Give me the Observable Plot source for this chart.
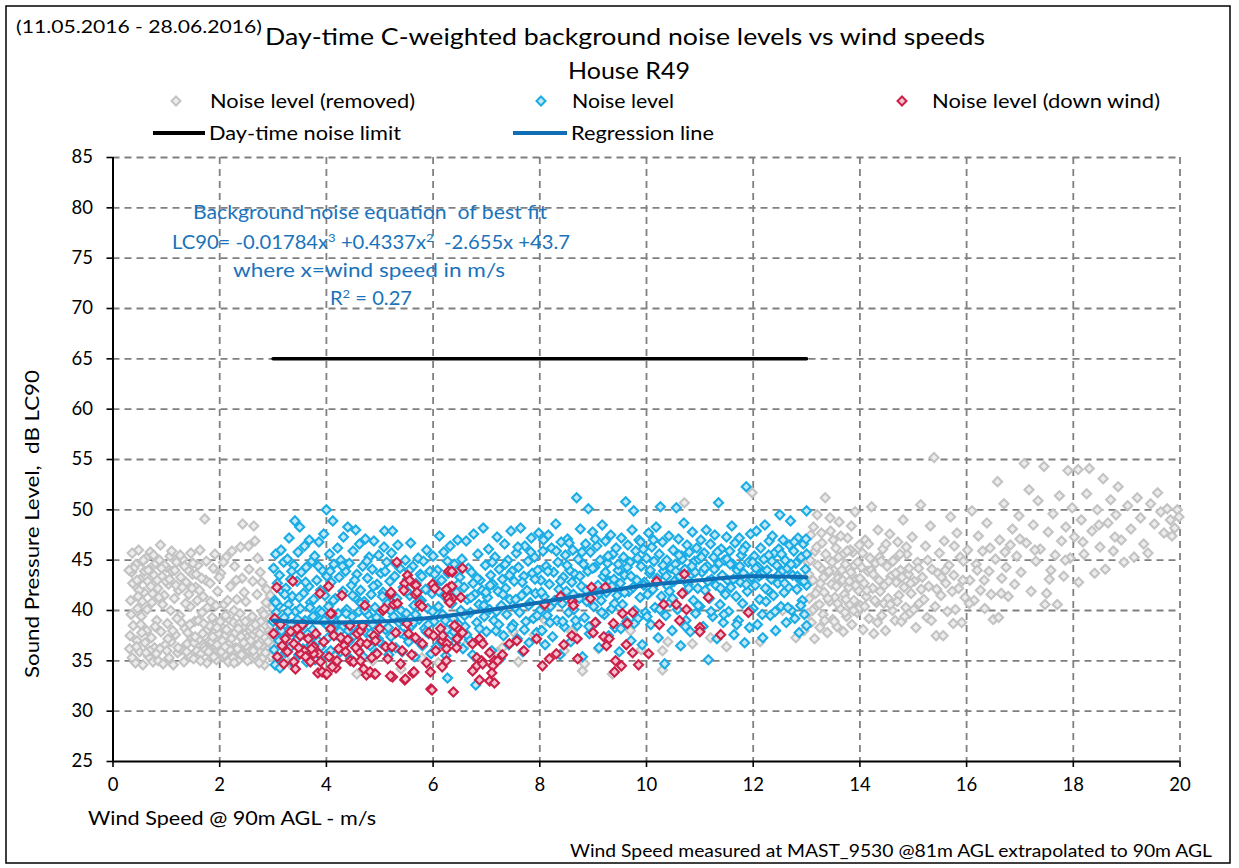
<!DOCTYPE html>
<html><head><meta charset="utf-8">
<script src="https://cdn.jsdelivr.net/npm/d3@7"></script>
<script src="https://cdn.jsdelivr.net/npm/@observablehq/plot@0.6"></script>
<style>
body{margin:0;background:#fff;}
#wrap{position:relative;width:1239px;height:868px;overflow:hidden;font-family:Lato,sans-serif;background:#fff;}
#chart{position:absolute;left:0;top:0;}
#over{position:absolute;left:0;top:0;pointer-events:none;}
</style></head>
<body>
<div id="wrap">
<div id="chart"></div>
<svg id="over" width="1239" height="868" font-family="Lato, sans-serif">
<rect x="6" y="6" width="1224" height="857" fill="none" stroke="#000" stroke-width="1.5"/>
<text x="16" y="33" font-size="18" textLength="246" lengthAdjust="spacingAndGlyphs">(11.05.2016 - 28.06.2016)</text>
<text x="265" y="45" font-size="24" textLength="720" lengthAdjust="spacingAndGlyphs">Day-time C-weighted background noise levels vs wind speeds</text>
<text x="568" y="79" font-size="24" textLength="122" lengthAdjust="spacingAndGlyphs">House R49</text>
<path d="M176,96.5L180.5,101L176,105.5L171.5,101Z" fill="#ededed" stroke="#c3c3c3" stroke-width="2"/>
<text x="210" y="108" font-size="19.5" textLength="205" lengthAdjust="spacingAndGlyphs">Noise level (removed)</text>
<path d="M541,96.5L545.5,101L541,105.5L536.5,101Z" fill="#c4e8f7" stroke="#1aace4" stroke-width="2"/>
<text x="572" y="108" font-size="19.5" textLength="102" lengthAdjust="spacingAndGlyphs">Noise level</text>
<path d="M902,96.5L906.5,101L902,105.5L897.5,101Z" fill="#f5c3d0" stroke="#cc1f48" stroke-width="2"/>
<text x="932" y="108" font-size="19.5" textLength="228" lengthAdjust="spacingAndGlyphs">Noise level (down wind)</text>
<line x1="153" y1="133" x2="205" y2="133" stroke="#000" stroke-width="4"/>
<text x="209" y="140" font-size="19.5" textLength="192" lengthAdjust="spacingAndGlyphs">Day-time noise limit</text>
<line x1="513" y1="133" x2="567" y2="133" stroke="#106eb4" stroke-width="4"/>
<text x="571" y="140" font-size="19.5" textLength="143" lengthAdjust="spacingAndGlyphs">Regression line</text>
<g fill="#1a73bb" font-size="18.5" text-anchor="middle">
<text x="370" y="219" textLength="354" lengthAdjust="spacingAndGlyphs">Background noise equation&#160; of best fit</text>
<text x="371" y="249" textLength="398" lengthAdjust="spacingAndGlyphs">LC90= -0.01784x<tspan dy="-7" font-size="12">3</tspan><tspan dy="7"> +0.4337x</tspan><tspan dy="-7" font-size="12">2</tspan><tspan dy="7">&#160; -2.655x +43.7</tspan></text>
<text x="369" y="277" textLength="272" lengthAdjust="spacingAndGlyphs">where x=wind speed in m/s</text>
<text x="371" y="305" textLength="82" lengthAdjust="spacingAndGlyphs">R<tspan dy="-7" font-size="12">2</tspan><tspan dy="7"> = 0.27</tspan></text>
</g>
<text x="88" y="825" font-size="19.5" textLength="288" lengthAdjust="spacingAndGlyphs">Wind Speed @ 90m AGL - m/s</text>
<text x="39" y="524" font-size="19.5" text-anchor="middle" transform="rotate(-90 39 524)" textLength="308" lengthAdjust="spacingAndGlyphs">Sound Pressure Level,&#160; dB LC90</text>
<text x="1212" y="857" font-size="17.5" text-anchor="end" textLength="642" lengthAdjust="spacingAndGlyphs">Wind Speed measured at MAST_9530 @81m AGL extrapolated to 90m AGL</text>
</svg>
</div>
<script>
// ---- data ----
const xTicks = [0,2,4,6,8,10,12,14,16,18,20];
const yTicks = [25,30,35,40,45,50,55,60,65,70,75,80,85];

const regX = [3,4,5,6,7,8,9,10,11,12,13];
const regY = [39.0,38.8,38.9,39.3,40.0,40.8,41.7,42.5,43.0,43.4,43.3];

const limitX = [3,13];
const limitY = [65,65];

// Noise level (removed) : flat x,y pairs
const removedLeft = [
0.31,36.2,0.33,41.0,0.35,43.8,0.36,45.7,0.38,38.5,0.40,35.1,0.41,42.5,0.43,44.6,0.45,37.0,0.46,40.2,0.48,46.0,0.50,35.9,0.51,43.1,0.53,39.4,0.55,44.9,0.56,34.6,0.58,41.8,0.60,36.8,
0.62,45.2,0.63,38.0,0.65,42.9,0.67,35.4,0.68,44.1,0.70,45.8,0.72,37.3,0.73,40.8,0.75,34.9,0.77,43.5,0.78,36.3,0.80,44.7,0.82,39.0,0.84,42.2,0.85,35.0,0.87,45.0,0.89,46.5,0.90,37.9,0.92,43.4,0.94,34.7,0.96,41.5,0.98,36.6,
1.00,44.3,1.02,38.7,1.04,42.6,1.05,35.3,1.07,45.4,1.09,36.9,1.11,43.9,1.13,34.6,1.15,41.2,1.17,37.6,1.19,44.8,1.21,35.8,1.23,42.0,1.25,39.5,1.27,43.3,1.29,36.1,1.31,45.1,1.33,34.9,1.35,38.2,1.37,42.8,1.39,36.7,1.41,44.0,1.43,35.5,1.45,40.4,1.47,37.4,1.49,43.6,
1.51,35.2,1.53,38.9,1.55,42.3,1.57,36.0,1.59,44.5,1.61,37.1,1.63,46.0,1.65,35.7,1.67,39.8,1.69,41.4,1.71,36.4,1.72,49.1,1.74,43.0,1.76,34.8,1.78,38.1,1.80,37.0,1.82,42.7,1.84,35.6,1.86,39.3,1.88,44.2,1.90,36.5,1.92,38.6,1.94,35.1,1.96,41.9,1.98,37.7,
2.00,36.2,2.02,43.7,2.04,38.3,2.06,35.4,2.08,40.6,2.10,37.5,2.12,45.3,2.14,36.8,2.16,34.9,2.18,39.1,2.20,42.4,2.22,37.2,2.24,35.8,2.26,38.8,2.28,44.4,2.30,36.3,2.32,41.1,2.34,35.0,2.36,37.9,2.38,39.7,2.40,36.0,2.42,43.2,2.43,48.6,2.45,38.4,2.47,35.5,2.49,40.9,
2.51,37.3,2.53,36.1,2.55,44.1,2.57,38.0,2.59,35.2,2.61,39.4,2.63,37.6,2.64,48.4,2.66,46.9,2.68,36.5,2.70,41.6,2.72,38.7,2.74,35.9,2.76,43.8,2.78,37.0,2.80,39.9,2.82,36.4,2.84,34.6,2.86,38.5,2.88,42.1,2.90,37.4,2.92,35.7,2.94,39.2,2.96,36.7,
0.34,39.6,0.39,44.2,0.44,36.4,0.49,42.0,0.54,37.8,0.59,43.9,0.64,40.1,0.69,36.0,0.74,41.7,0.79,38.4,0.83,43.0,0.88,36.2,0.93,40.6,0.99,42.9,1.03,37.2,1.08,40.0,1.12,38.0,1.18,42.5,1.22,36.3,1.28,38.8,1.34,44.4,1.38,35.9,1.44,38.6,1.48,42.2,
1.52,36.8,1.56,43.6,1.60,39.0,1.64,35.0,1.68,37.7,1.73,36.1,1.77,40.3,1.81,38.5,1.85,36.9,1.89,35.4,1.93,40.5,1.97,36.0,2.01,38.9,2.05,37.0,2.09,35.6,2.13,38.1,2.17,36.6,2.21,39.6,2.25,35.3,2.29,37.8,2.33,36.2,2.37,38.7,2.41,35.6,2.44,37.1,
2.48,38.9,2.52,35.0,2.56,36.9,2.60,38.3,2.65,35.6,2.69,37.9,2.73,36.6,2.77,38.9,2.81,35.3,2.85,37.3,2.89,36.1,2.93,38.0,2.97,35.4,2.98,37.8,2.99,40.3,2.95,41.5,2.87,40.8,2.79,42.8,2.71,45.2,2.62,42.9,2.54,46.4,2.46,41.8,2.39,46.3,2.31,43.0,
2.23,45.9,2.15,41.0,2.07,44.8,1.99,43.3,1.91,45.6,1.83,40.9,1.75,44.9,1.66,43.2,1.58,41.0,1.50,44.7,1.42,41.6,1.36,40.7,1.26,45.5,1.16,44.0,1.06,43.1,0.97,44.5,0.86,41.3,0.76,45.5,0.66,44.0,0.57,45.0,0.47,41.4,0.37,42.7,0.32,37.5,0.42,34.8,0.52,38.6,
0.30,44.0,0.36,35.3,0.45,43.0,0.55,40.9,0.62,35.8,0.71,42.4,0.81,35.7,0.91,44.2,1.01,36.0,1.10,45.9,1.20,39.2,1.30,42.3,1.40,37.8,1.46,45.7,1.54,37.4,1.62,42.0,1.70,38.7,1.79,35.9,1.87,37.4,1.95,38.3,2.03,35.9,2.11,39.5,2.19,36.1,2.27,40.0,
2.35,38.2,2.40,37.4,2.50,36.5,2.58,37.0,2.67,38.6,2.75,37.7,2.83,39.6,2.91,36.9,2.96,38.6,2.86,35.8,2.74,34.8,2.63,36.0,2.45,36.8,2.27,34.8,2.10,36.4,1.95,36.6
];
const removedMid = [
3.3,34.8,3.6,35.9,4.2,35.6,4.57,33.7,4.87,35.0,5.1,36.4,5.4,34.2,5.79,35.3,6.1,34.8,6.6,36.5,7.2,35.8,7.3,36.3,7.6,34.9,7.9,37.6,8.1,39.0,8.46,36.0,8.8,34.0,8.84,34.7,9.1,36.2,9.36,33.7,9.7,38.0,9.9,36.1,10.3,34.1,10.3,36.0,10.4,36.9,
10.71,50.7,10.86,36.7,11.2,37.3,11.5,36.4,11.98,51.7,12.13,36.9,12.55,40.0,12.8,37.3,12.95,38.0,8.6,37.9,6.9,37.0,7.5,37.9
];
const removedRight = [
13.02,44.8,13.05,41.2,13.08,47.5,13.09,38.8,13.12,43.0,13.15,37.2,13.16,45.9,13.18,40.4,13.20,49.5,13.22,42.1,13.25,38.3,13.27,44.2,13.29,46.7,13.31,39.6,13.33,41.8,13.35,51.2,13.37,43.5,13.39,37.8,13.41,45.1,13.43,40.9,13.45,47.9,13.47,42.6,13.49,39.1,
13.51,44.0,13.53,41.3,13.55,46.2,13.57,38.4,13.59,43.2,13.61,48.8,13.63,40.2,13.65,42.9,13.67,45.5,13.69,37.9,13.71,41.6,13.73,44.6,13.75,39.4,13.77,47.2,13.79,42.3,13.81,40.6,13.83,43.8,13.85,38.6,13.87,45.8,13.89,41.0,13.91,49.8,13.93,43.1,13.95,39.8,13.97,42.0,13.99,46.5,
14.01,40.5,14.03,44.3,14.06,38.1,14.08,42.7,14.10,47.0,14.12,41.4,14.15,43.9,14.17,39.2,14.19,45.2,14.22,50.3,14.24,42.2,14.26,37.7,14.29,44.7,14.31,40.8,14.34,48.0,14.36,43.0,14.38,41.9,14.41,39.5,14.43,46.1,14.46,42.5,14.48,38.0,
14.51,44.4,14.53,41.2,14.56,47.6,14.58,43.4,14.61,40.0,14.63,45.0,14.66,39.0,14.68,42.8,14.71,46.8,14.73,41.5,14.76,44.0,14.78,38.9,14.81,49.0,14.83,42.3,14.86,40.3,14.88,45.6,14.91,43.6,14.93,39.7,14.96,41.7,14.98,47.3,
15.02,42.9,15.05,38.3,15.08,44.8,15.11,40.7,15.14,50.5,15.17,43.3,15.20,41.1,15.23,46.4,15.26,39.3,15.29,42.4,15.32,48.4,15.35,44.1,15.39,55.2,15.41,40.4,15.43,37.5,15.46,43.7,15.49,45.7,15.52,41.5,15.56,37.5,15.58,46.9,15.61,42.7,15.64,39.9,15.67,44.5,15.70,49.3,15.73,41.9,15.76,43.5,15.79,40.1,15.82,47.7,15.85,42.2,15.88,45.3,15.91,38.8,15.94,44.9,15.97,41.3,
16.02,46.0,16.06,43.0,16.10,49.9,16.14,41.0,16.18,44.6,16.22,47.4,16.26,42.0,16.30,45.9,16.34,40.2,16.38,48.7,16.42,43.9,16.46,41.6,16.50,39.1,16.54,45.1,16.58,52.8,16.60,39.3,16.62,47.0,16.66,43.2,16.70,50.6,16.74,44.3,16.78,41.4,16.82,46.5,16.86,48.1,16.90,42.6,16.94,45.4,16.98,49.4,
17.02,43.8,17.08,54.6,17.12,46.7,17.17,52.0,17.21,41.9,17.25,48.5,17.30,44.9,17.34,50.9,17.38,46.1,17.45,54.3,17.47,40.6,17.50,41.7,17.53,47.8,17.58,44.0,17.62,49.6,17.66,45.5,17.70,40.6,17.74,51.4,17.78,46.9,17.82,43.4,17.86,48.3,17.90,53.9,17.94,45.2,17.98,50.2,
18.02,47.3,18.09,54.0,18.10,42.8,18.15,49.0,18.20,45.6,18.25,51.6,18.30,54.1,18.35,47.9,18.40,43.7,18.45,50.0,18.50,46.3,18.56,53.1,18.60,44.1,18.65,48.7,18.70,51.0,18.75,45.9,18.80,49.5,18.84,52.3,18.90,47.0,18.95,44.8,
19.02,50.4,19.08,48.1,19.14,45.3,19.20,51.2,19.26,49.2,19.32,46.6,19.40,45.7,19.45,50.6,19.52,48.6,19.58,51.7,19.64,49.8,19.70,47.7,19.76,50.1,19.82,49.0,19.85,47.4,19.90,48.2,19.95,50.0,19.98,49.3,
13.04,43.6,13.11,40.0,13.19,46.3,13.26,42.7,13.34,39.0,13.42,43.9,13.50,47.0,13.58,40.7,13.66,44.0,13.74,41.1,13.82,46.0,13.90,44.5,13.98,40.2,14.05,45.7,14.13,42.0,14.21,44.0,14.28,41.0,14.37,45.3,14.45,40.7,14.54,42.9,14.62,44.9,
14.70,40.9,14.79,43.3,14.87,46.3,14.95,42.7,15.10,44.2,15.27,45.0,15.44,42.1,15.60,44.0,15.77,46.4,15.93,43.0,16.20,44.0,16.44,46.2,16.72,45.8,17.00,47.1,17.28,46.0,17.55,43.1,17.85,45.0,18.18,46.8,18.48,48.5,18.78,47.3,
13.03,39.7,13.07,45.0,13.13,48.3,13.17,41.7,13.21,44.5,13.24,40.6,13.28,47.7,13.32,43.3,13.36,45.6,13.40,41.2,13.44,49.2,13.48,44.8,13.52,38.9,13.56,42.4,13.60,45.3,13.64,47.4,13.68,43.0,13.72,39.8,13.76,45.9,13.80,42.9,13.84,48.4,13.88,40.0,
13.92,42.5,13.96,44.8,14.00,43.2,14.09,40.4,14.16,46.6,14.25,43.6,14.33,38.8,14.40,44.9,14.49,46.6,14.57,40.6,14.67,43.7,14.75,45.6,14.84,39.4,14.92,44.2,15.01,40.1,15.15,42.1,15.34,39.0,15.53,43.3,15.75,38.7,16.05,40.7,16.33,43.0,16.65,41.7
];

// Noise level : flat x,y pairs
const noiseLevel = [
3.00,38.9,3.01,44.2,3.02,36.1,3.03,41.0,3.04,34.6,3.05,45.6,3.06,39.8,3.07,37.4,3.08,42.7,3.09,35.3,3.10,40.5,3.12,43.5,3.13,34.3,3.14,38.2,3.15,46.0,3.17,41.9,3.18,36.8,3.20,44.8,3.21,39.3,3.23,35.8,3.24,42.2,3.26,37.9,3.27,45.1,3.29,40.6,3.30,47.2,3.31,36.3,3.33,43.1,3.34,38.6,3.36,41.4,3.37,34.8,3.39,44.5,3.41,48.9,3.42,39.9,3.44,37.1,3.45,42.9,3.47,45.8,3.48,35.6,3.50,48.3,3.51,40.2,
3.53,43.8,3.54,38.4,3.56,36.2,3.57,41.7,3.59,46.4,3.60,39.0,3.62,44.3,3.63,34.9,3.65,37.7,3.67,42.4,3.68,47.0,3.70,40.8,3.71,36.6,3.73,44.9,3.74,38.1,3.76,41.1,3.78,45.4,3.79,35.1,3.81,39.5,3.82,43.0,3.84,37.0,3.86,46.8,3.87,40.0,3.89,42.0,3.90,36.4,3.92,44.0,3.94,38.9,3.95,47.6,3.97,41.5,3.98,35.5,
4.00,50.0,4.01,43.4,4.03,37.3,4.04,40.4,4.06,45.6,4.08,36.0,4.09,42.8,4.11,39.2,4.12,48.9,4.14,44.6,4.16,34.7,4.17,41.2,4.19,37.6,4.21,46.2,4.22,39.7,4.24,43.3,4.26,35.9,4.27,45.0,4.29,38.3,4.31,41.9,4.32,47.3,4.34,36.9,4.36,43.9,4.38,40.1,4.40,48.3,4.41,38.0,4.43,44.7,4.45,35.2,4.47,42.5,4.48,39.4,
4.50,45.9,4.52,37.5,4.54,41.3,4.55,48.0,4.57,43.6,4.59,36.1,4.61,39.9,4.62,46.6,4.64,42.0,4.66,38.4,4.68,44.4,4.69,35.4,4.71,40.9,4.73,47.1,4.75,37.8,4.77,43.2,4.78,39.6,4.80,45.3,4.82,36.5,4.84,41.6,4.86,44.1,4.87,38.6,4.89,46.9,4.91,40.3,4.93,35.8,4.95,42.6,4.97,37.2,4.98,45.5,
5.00,39.1,5.02,43.7,5.04,36.7,5.06,41.8,5.08,46.3,5.09,47.9,5.11,38.1,5.13,44.8,5.15,40.7,5.17,35.6,5.19,42.9,5.21,37.4,5.22,45.7,5.24,47.9,5.26,39.4,5.28,43.4,5.30,36.3,5.32,41.2,5.34,46.5,5.36,38.8,5.38,44.2,5.40,40.0,5.42,35.9,5.44,42.3,5.46,37.6,5.48,45.0,
5.50,39.7,5.52,43.1,5.54,36.9,5.56,41.5,5.58,46.7,5.60,38.5,5.62,44.4,5.64,40.5,5.66,35.4,5.68,42.7,5.70,37.1,5.72,45.2,5.74,39.1,5.76,43.6,5.78,41.0,5.80,36.5,5.82,44.9,5.84,38.2,5.86,42.1,5.88,46.0,5.90,40.2,5.92,37.7,5.94,43.9,5.96,35.7,5.98,41.7,
6.00,45.4,6.02,38.9,6.04,42.5,6.06,36.4,6.08,44.0,6.10,40.4,6.12,47.4,6.14,37.3,6.16,43.0,6.18,39.6,6.20,45.8,6.22,41.4,6.24,35.5,6.26,38.1,6.27,33.3,6.28,43.7,6.30,40.9,6.32,46.4,6.34,37.6,6.36,42.0,6.38,39.2,6.40,44.6,6.42,36.8,6.44,41.8,6.46,47.0,6.48,38.6,
6.50,43.3,6.52,40.0,6.54,45.1,6.56,36.2,6.58,42.3,6.60,38.4,6.62,46.9,6.64,41.1,6.66,44.2,6.68,37.1,6.70,39.8,6.72,43.8,6.74,35.6,6.76,47.6,6.78,41.6,6.80,32.6,6.82,38.8,6.84,45.6,6.86,40.6,6.88,43.0,6.90,36.9,6.92,42.0,6.94,48.2,6.96,39.4,6.98,44.5,
7.00,37.9,7.02,41.3,7.04,46.1,7.06,40.1,7.08,43.5,7.10,36.0,7.12,42.6,7.14,39.0,7.16,45.3,7.18,38.0,7.20,47.3,7.22,41.9,7.24,44.1,7.26,35.2,7.28,40.5,7.30,43.1,7.32,37.5,7.34,46.6,7.36,42.2,7.38,39.6,7.40,45.0,7.42,36.6,7.44,41.1,7.46,47.9,7.48,43.9,
7.50,38.6,7.52,42.9,7.54,40.3,7.56,45.7,7.58,37.2,7.60,44.3,7.62,39.8,7.64,48.2,7.66,41.5,7.68,35.9,7.70,43.4,7.72,46.4,7.74,38.9,7.76,42.0,7.78,44.9,7.80,36.8,7.82,40.8,7.84,47.2,7.86,43.7,7.88,39.2,7.90,45.3,7.92,41.7,7.94,37.8,7.96,44.0,7.98,47.7,
8.00,40.0,8.02,43.0,8.04,38.0,8.06,45.9,8.08,41.4,8.10,36.6,8.12,44.4,8.14,39.5,8.16,47.5,8.18,42.6,8.20,40.4,8.22,46.2,8.24,37.4,8.26,43.8,8.28,41.0,8.30,48.6,8.32,39.0,8.34,44.8,8.36,42.1,8.38,35.6,8.40,46.8,8.42,40.7,8.44,43.3,8.46,38.4,8.48,45.5,
8.50,41.9,8.52,47.1,8.54,39.8,8.56,44.0,8.58,36.9,8.60,42.8,8.62,46.0,8.64,40.1,8.66,43.6,8.69,51.2,8.70,38.5,8.72,45.1,8.74,41.2,8.76,48.1,8.78,42.4,8.80,35.4,8.82,44.6,8.84,39.3,8.86,46.6,8.88,40.9,8.90,43.9,8.91,50.1,8.93,37.7,8.95,45.8,8.97,42.0,8.99,47.8,
9.01,40.4,9.03,44.3,9.05,38.8,9.07,46.4,9.09,42.5,9.11,36.3,9.13,45.0,9.15,41.0,9.17,48.5,9.19,43.4,9.21,39.6,9.23,46.9,9.25,41.8,9.27,44.7,9.29,37.5,9.31,42.9,9.33,47.5,9.35,40.2,9.37,45.6,9.39,43.1,9.41,38.3,9.43,46.2,9.45,41.5,9.47,44.0,9.49,35.9,
9.51,42.7,9.53,47.2,9.55,40.6,9.57,45.3,9.59,43.5,9.61,50.8,9.63,38.9,9.65,46.5,9.67,41.9,9.69,44.8,9.71,37.0,9.73,48.0,9.75,42.3,9.76,49.9,9.78,40.0,9.80,45.9,9.82,43.0,9.84,39.2,9.86,47.0,9.88,41.3,9.90,44.4,9.92,36.6,9.94,46.1,9.96,42.8,9.98,39.8,
10.00,45.2,10.02,41.6,10.04,47.7,10.06,43.7,10.08,38.6,10.10,46.3,10.12,42.1,10.14,44.9,10.16,40.3,10.18,48.3,10.20,43.2,10.22,37.3,10.24,45.6,10.26,50.3,10.28,41.4,10.30,46.8,10.32,43.9,10.34,34.7,10.36,39.5,10.38,45.0,10.40,42.4,10.42,47.4,10.44,40.8,10.46,44.2,10.48,38.0,
10.50,46.0,10.52,42.9,10.54,44.6,10.56,50.2,10.58,40.1,10.60,47.1,10.62,43.4,10.64,36.5,10.66,45.4,10.68,41.7,10.70,48.7,10.72,44.1,10.74,39.0,10.76,46.5,10.78,42.6,10.80,45.8,10.82,37.9,10.84,43.6,10.86,47.8,10.88,41.0,10.90,44.9,10.92,39.7,10.94,46.2,10.96,42.2,10.98,45.1,
11.00,40.4,11.02,47.0,11.04,43.8,11.06,38.4,11.08,45.7,11.10,42.0,11.12,48.0,11.14,44.4,11.16,35.1,11.18,41.2,11.20,46.6,11.22,43.1,11.24,39.4,11.26,45.3,11.28,47.5,11.30,42.5,11.32,37.2,11.35,50.7,11.36,44.7,11.38,40.6,11.40,46.1,11.42,43.5,11.44,38.8,11.46,45.0,11.48,41.6,
11.50,47.3,11.52,43.0,11.54,39.9,11.56,45.9,11.58,42.3,11.60,48.4,11.62,44.6,11.64,37.6,11.66,46.7,11.68,41.4,11.70,44.0,11.72,39.0,11.74,47.2,11.76,42.8,11.78,45.5,11.80,40.7,11.82,43.7,11.84,36.8,11.86,46.4,11.87,52.3,11.89,41.9,11.91,44.8,11.93,38.3,11.95,47.6,11.97,43.3,
12.00,40.2,12.02,45.4,12.04,42.5,12.06,47.9,12.08,38.6,12.10,44.3,12.12,41.1,12.14,46.2,12.16,43.6,12.18,37.3,12.20,45.1,12.22,48.5,12.24,40.9,12.26,44.0,12.28,42.0,12.30,46.9,12.32,39.5,12.34,43.1,12.36,47.4,12.38,41.5,12.40,45.7,12.42,38.0,12.44,44.5,12.46,42.7,12.48,46.1,
12.50,49.5,12.52,40.4,12.54,43.9,12.56,47.0,12.58,41.8,12.60,45.0,12.62,38.8,12.64,44.2,12.66,42.3,12.68,46.5,12.70,48.9,12.72,40.0,12.74,43.5,12.76,45.9,12.78,39.2,12.80,44.7,12.82,42.1,12.84,47.2,12.86,37.8,12.88,43.0,12.90,45.3,12.92,41.0,12.94,46.6,12.96,39.6,12.98,44.1,13.00,49.9,13.00,42.5,13.00,38.5,13.00,45.6,
3.05,40.8,3.16,38.0,3.28,39.9,3.38,37.9,3.49,41.3,3.58,38.7,3.69,40.3,3.80,37.6,3.91,39.8,4.02,38.5,4.13,41.0,4.25,37.9,4.37,39.7,4.49,41.5,4.60,38.1,4.72,40.0,4.83,37.7,4.94,39.3,5.05,41.4,5.16,38.3,5.27,40.4,5.39,37.8,5.51,41.9,5.63,38.8,
5.75,40.9,5.87,37.9,5.99,39.9,6.11,41.9,6.23,39.0,6.35,40.7,6.47,42.6,6.59,39.5,6.71,41.3,6.83,43.2,6.95,40.5,7.07,42.5,7.19,39.9,7.31,41.6,7.43,43.5,7.55,41.1,7.67,42.8,7.79,40.5,7.91,43.1,8.03,41.8,8.15,43.9,8.27,40.9,8.39,42.9,8.51,44.5,
8.63,41.6,8.75,43.4,8.87,42.0,8.99,44.2,9.11,41.7,9.23,43.8,9.35,42.4,9.47,44.6,9.59,41.8,9.71,43.4,9.83,45.2,9.95,42.5,10.07,44.0,10.19,42.8,10.31,44.5,10.43,41.9,10.55,43.9,10.67,45.1,10.79,42.2,10.91,43.8,11.03,45.3,11.15,42.9,11.27,44.1,
11.39,42.2,11.51,45.1,11.63,43.1,11.75,44.4,11.87,42.6,11.99,44.8,12.11,43.4,12.23,42.2,12.35,44.9,12.47,43.5,12.59,42.7,12.71,44.6,12.83,43.4,12.95,42.9,
3.11,37.0,3.22,41.6,3.35,43.9,3.46,39.1,3.61,42.8,3.75,39.4,3.85,44.4,3.96,39.0,4.07,43.9,4.18,38.8,4.30,44.4,4.42,36.9,4.53,43.0,4.65,40.7,4.76,44.9,4.88,42.4,4.99,36.9,5.10,43.9,5.20,40.0,5.31,44.6,5.43,39.0,5.55,44.0,5.67,39.6,5.79,43.4,
5.91,38.6,6.03,43.6,6.15,36.9,6.27,44.9,6.39,37.9,6.51,44.3,6.63,37.6,6.75,42.7,6.87,38.2,6.99,41.8,7.11,44.8,7.23,38.6,7.35,44.6,7.47,38.3,7.59,46.3,7.71,38.1,7.83,45.8,7.95,39.5,8.07,47.0,8.19,38.8,8.31,45.9,8.43,38.9,8.55,46.7,8.67,39.0,
8.79,45.8,8.92,38.4,9.04,47.1,9.16,39.8,9.28,45.4,9.40,40.7,9.52,38.2,9.64,44.3,9.77,38.7,9.89,46.8,10.01,39.4,10.13,47.0,10.25,40.1,10.37,43.4,10.49,41.2,10.61,45.5,10.73,38.4,10.85,44.4,10.97,40.5,11.09,44.2,11.21,39.9,11.33,45.8,11.45,39.6,
11.57,44.6,11.69,38.6,11.81,46.0,11.94,40.0,12.05,44.2,12.17,39.6,12.29,45.5,12.41,39.9,12.53,45.6,12.65,40.3,12.77,46.8,12.89,40.5,12.99,47.1
];

// Noise level (down wind) : flat x,y pairs
const downWind = [
3.07,42.3,3.37,42.9,4.04,42.4,3.88,41.7,4.29,41.5,5.32,44.8,5.52,43.5,5.47,42.7,5.66,42.5,5.67,41.6,5.99,42.6,6.03,42.2,6.29,43.9,5.20,41.6,5.26,40.6,4.72,40.5,4.10,39.7,5.06,40.0,5.75,40.6,5.96,32.2,5.24,33.4,5.47,33.1,5.62,33.8,3.84,33.8,3.99,33.7,4.18,34.3,4.75,33.6,4.90,33.7,
3.01,37.7,3.23,37.2,3.17,36.5,3.45,38.2,3.51,37.5,3.39,36.7,3.58,36.0,3.80,37.7,3.76,36.4,3.86,35.7,4.08,39.7,4.08,38.2,4.14,37.5,4.27,37.3,4.33,36.5,4.44,38.5,4.58,37.7,4.64,38.0,4.64,36.8,4.76,36.7,4.89,37.5,4.92,37.0,4.95,35.7,5.11,36.4,5.23,36.4,5.51,38.7,5.54,37.7,5.67,37.3,5.92,37.8,6.01,37.5,6.14,38.2,6.17,37.0,6.26,36.7,6.45,38.3,6.45,37.2,
3.08,35.4,3.20,34.7,3.39,34.9,3.42,34.2,3.51,35.7,3.61,35.4,3.70,34.9,3.76,35.7,3.89,34.9,3.92,33.9,4.01,33.7,4.11,34.4,4.20,35.0,4.36,35.9,4.45,35.0,4.61,35.9,4.51,34.9,4.64,35.0,4.70,34.2,4.82,33.9,4.92,33.7,5.20,33.5,5.39,34.7,5.48,33.2,5.64,33.9,5.95,33.9,6.17,34.4,5.98,32.1,6.38,31.9,
5.56,43.0,5.45,42.0,5.68,42.5,5.70,41.8,6.36,43.8,6.31,42.3,6.26,41.5,6.36,41.2,5.09,40.2,5.21,41.8,5.33,40.7,5.79,40.4,
10.71,43.6,10.19,42.9,8.97,42.3,9.23,42.3,8.39,41.4,8.95,41.2,8.61,40.9,8.63,40.5,8.09,40.6,10.67,41.7,11.16,41.3,10.32,40.6,10.56,40.6,10.75,40.1,11.91,39.8,9.55,39.7,9.74,39.8,9.04,38.8,9.38,38.7,9.64,38.7,10.24,38.6,10.62,39.0,11.00,38.3,11.00,37.9,11.39,37.6,
9.00,37.8,8.60,37.5,8.70,37.2,9.20,37.4,9.30,37.2,9.25,36.5,7.94,37.2,8.31,35.7,8.18,35.2,8.05,34.5,8.71,35.2,9.74,35.8,10.04,35.7,9.42,35.0,9.53,34.5,9.40,33.9,9.62,36.6,7.43,36.7,7.57,37.0,
6.35,43.9,6.55,44.2,6.35,42.4,6.25,42.1,6.29,41.2,6.31,40.8,6.52,41.3,6.40,38.5,6.55,37.8,6.74,36.7,6.87,37.2,6.93,36.7,7.06,35.8,6.82,35.3,6.91,35.0,7.15,35.0,7.21,35.0,6.82,34.5,7.12,34.5,6.93,34.7,6.74,34.0,7.10,33.8,6.87,33.1,7.06,33.0,7.15,32.8,6.25,35.0,6.44,36.3,6.25,36.2,6.18,37.5,
3.03,39.2,3.14,38.6,3.27,35.9,3.33,37.9,3.48,36.3,3.55,38.6,3.66,37.2,3.72,36.2,3.95,36.9,4.05,35.4,4.23,36.2,4.40,37.1,4.55,36.3,4.68,38.5,4.85,35.3,5.00,38.2,5.15,35.2,5.30,37.8,5.42,36.0,5.60,35.6,5.80,36.7,5.88,34.8,6.05,36.0,7.30,35.6,7.70,36.0,8.45,36.6,9.85,34.6
];

// ---- build ----
function pairs(flat){const out=[];for(let i=0;i+1<flat.length;i+=2)out.push({x:flat[i],y:flat[i+1]});return out;}
const removed = pairs(removedLeft.concat(removedMid, removedRight));
const noise = pairs(noiseLevel);
const down = pairs(downWind);
const reg = regX.map((x,i)=>({x, y:regY[i]}));
const limit = limitX.map((x,i)=>({x, y:limitY[i]}));
const gridX = xTicks.filter(d=>d>xTicks[0]);
const gridY = yTicks.filter(d=>d>yTicks[0]);

const grid = {stroke:"#808080", strokeWidth:1.8, strokeDasharray:"7,5", strokeOpacity:1};
const dotBase = {x:"x", y:"y", symbol:"diamond2", r:4.1, strokeWidth:2.1};

const chart = Plot.plot({
  width:1239, height:868,
  marginLeft:112.5, marginRight:59.5, marginTop:157, marginBottom:107,
  x:{domain:[0,20]},
  y:{domain:[25,85]},
  style:{fontFamily:"Lato, sans-serif", fontSize:"18.5px", color:"#000", background:"transparent", overflow:"visible"},
  marks:[
    Plot.ruleX(gridX, grid),
    Plot.ruleY(gridY, grid),
    Plot.dot(removed, {...dotBase, stroke:"#c3c3c3", fill:"#ededed"}),
    Plot.dot(noise, {...dotBase, stroke:"#1aace4", fill:"#c4e8f7"}),
    Plot.dot(down, {...dotBase, stroke:"#cc1f48", fill:"#f5c3d0"}),
    Plot.line(reg, {x:"x", y:"y", stroke:"#106eb4", strokeWidth:4, curve:"monotone-x"}),
    Plot.line(limit, {x:"x", y:"y", stroke:"#000", strokeWidth:3.5}),
    Plot.ruleX([0], {stroke:"#000", strokeWidth:2}),
    Plot.ruleY([25], {stroke:"#000", strokeWidth:2}),
    Plot.axisX({ticks:xTicks, tickSize:6, tickPadding:10, strokeWidth:1.6, label:null, tickFormat:d=>String(d)}),
    Plot.axisY({ticks:yTicks, tickSize:6, tickPadding:14, strokeWidth:1.6, label:null, tickFormat:d=>String(d)})
  ]
});
document.getElementById("chart").appendChild(chart);
</script>
</body></html>
